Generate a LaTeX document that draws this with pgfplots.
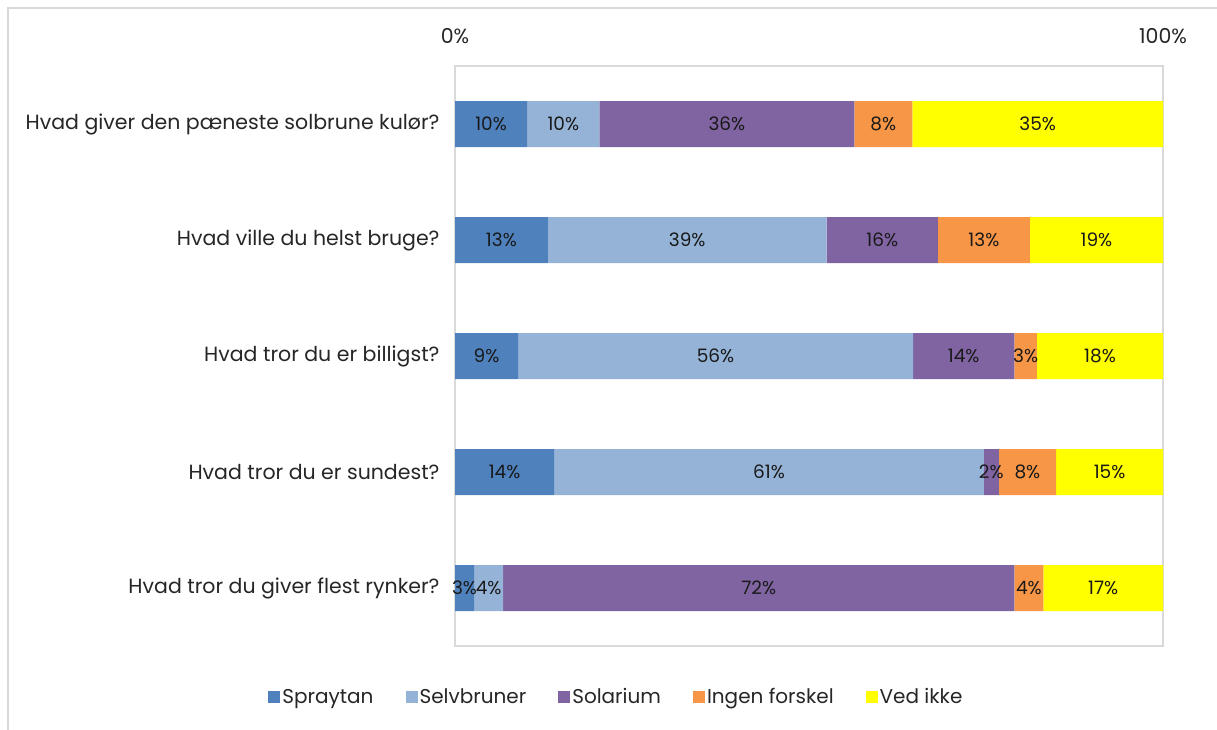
\documentclass[border=0pt]{standalone}
\usepackage{pgfplots}
\pgfplotsset{compat=1.18}
\usepackage{fontspec}
\setmainfont{Poppins}
\definecolor{cA}{HTML}{4F81BD}
\definecolor{cB}{HTML}{95B3D7}
\definecolor{cC}{HTML}{8064A2}
\definecolor{cD}{HTML}{F79646}
\definecolor{cE}{HTML}{FFFF00}
\definecolor{frame}{HTML}{D9D9D9}
\pgfplotstableread{
y v
0 10.2
1 13.1
2 8.9
3 14.0
4 2.7
}\spraytan
\pgfplotstableread{
y v
0 10.2
1 39.4
2 55.8
3 60.7
4 4.1
}\selvbruner
\pgfplotstableread{
y v
0 36.0
1 15.7
2 14.3
3 2.1
4 72.2
}\solarium
\pgfplotstableread{
y v
0 8.2
1 13.0
2 3.2
3 8.1
4 4.1
}\ingen
\pgfplotstableread{
y v
0 35.4
1 18.8
2 17.8
3 15.1
4 16.9
}\vedikke
\begin{document}
\begin{tikzpicture}[x=1pt,y=1pt]
\path[use as bounding box] (0,0) rectangle (1217,729);
\draw[frame, line width=1.5pt] (8,-20) rectangle (1240,721);
\begin{axis}[
  at={(455pt,83pt)}, anchor=south west,
  scale only axis, width=708pt, height=580pt,
  xbar stacked, bar width=46pt,
  xmin=0, xmax=100, ymin=-0.5, ymax=4.5, y dir=reverse,
  axis line style={draw=frame, line width=1.5pt},
  xtick={0,100}, xticklabels={0\%,100\%}, xticklabel pos=upper,
  major tick length=0pt,
  ytick={0,1,2,3,4},
  yticklabels={Hvad giver den pæneste solbrune kulør?,Hvad ville du helst bruge?,Hvad tror du er billigst?,Hvad tror du er sundest?,Hvad tror du giver flest rynker?},
  tick label style={font=\fontsize{20.5}{24}\selectfont, text=black!85},
  yticklabel style={xshift=-12pt},
  xticklabel style={yshift=19pt},
  /pgf/number format/assume math mode=true,
  point meta=explicit,
  nodes near coords={\pgfmathprintnumber[fixed,precision=0]{\pgfplotspointmeta}\%},
  every node near coord/.append style={anchor=center, inner xsep=1pt, font=\fontsize{18.5}{21}\selectfont, text=black!90},
  legend columns=-1,
  legend style={at={(0.228,-0.088)}, anchor=center, draw=none, fill=none,
    font=\fontsize{20}{24}\selectfont, text=black!85,
    /tikz/every odd column/.append style={column sep=0pt},
    /tikz/every even column/.append style={column sep=30pt},
    nodes={inner xsep=2pt}},
  legend image code/.code={\fill[#1] (0pt,-6pt) rectangle (12pt,6pt);},
]
\addplot[fill=cA, draw=none] table[x=v,y=y,meta=v] {\spraytan};
\addplot[fill=cB, draw=none] table[x=v,y=y,meta=v] {\selvbruner};
\addplot[fill=cC, draw=none] table[x=v,y=y,meta=v] {\solarium};
\addplot[fill=cD, draw=none] table[x=v,y=y,meta=v] {\ingen};
\addplot[fill=cE, draw=none] table[x=v,y=y,meta=v] {\vedikke};
\legend{Spraytan,Selvbruner,Solarium,Ingen forskel,Ved ikke}
\end{axis}
\end{tikzpicture}
\end{document}
